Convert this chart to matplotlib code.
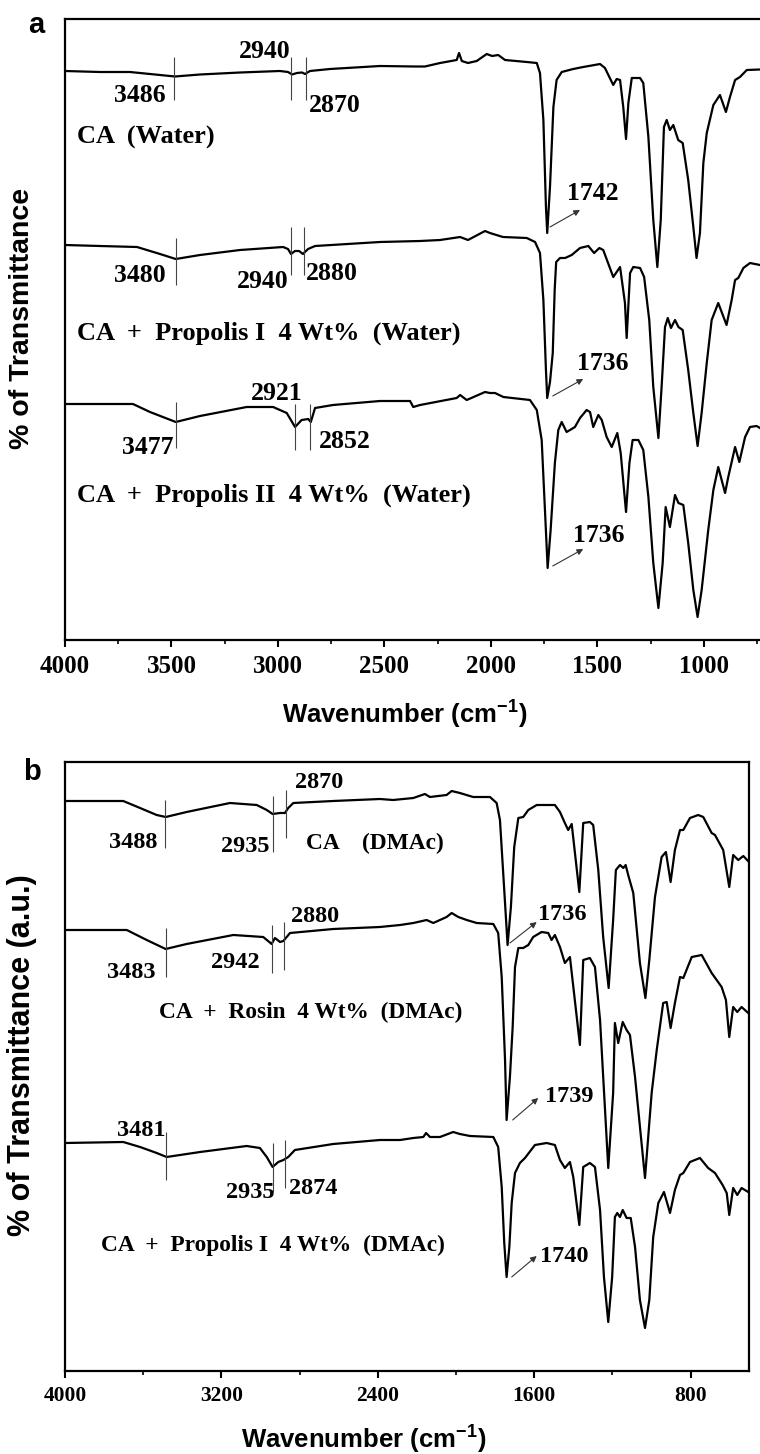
import matplotlib
matplotlib.use("Agg")
import matplotlib.pyplot as plt
from matplotlib.ticker import MultipleLocator

plt.rcParams["mathtext.fontset"] = "custom"
plt.rcParams["mathtext.rm"] = "Liberation Sans:bold"
plt.rcParams["mathtext.bf"] = "Liberation Sans:bold"
plt.rcParams["mathtext.default"] = "bf"

SERIF = "Liberation Serif"
SANS = "Liberation Sans"

# ---- panel a : films cast from water (transmittance, arbitrary offsets) ----
a_ca_wn = [4000, 3836, 3695, 3601, 3484, 3366, 3178, 2991, 2953, 2934, 2911, 2887, 2873, 2850, 2756,
           2521, 2357, 2310, 2239, 2161, 2150, 2137, 2108, 2067, 2020, 1995, 1966, 1934, 1832, 1785,
           1770, 1754, 1742, 1736, 1723, 1707, 1692, 1668, 1614, 1567, 1488, 1465, 1426, 1410, 1394,
           1379, 1366, 1355, 1339, 1300, 1285, 1261, 1238, 1219, 1203, 1188, 1175, 1160, 1144, 1121,
           1100, 1074, 1050, 1035, 1019, 1003, 987, 956, 925, 897, 878, 854, 831, 799, 737]
a_ca_t = [569, 568, 568, 566, 563.5, 565.5, 567.5, 569, 568, 565.5, 567, 567.5, 566, 569, 571,
          574, 573.5, 573.5, 577, 580, 587, 579, 577, 579, 586, 584, 585, 580, 578, 577,
          567, 520, 433, 407, 453, 533, 560, 568, 571, 573, 576, 572, 555, 561, 560,
          533, 501, 537, 562, 562, 557, 503, 420, 373, 420, 513, 520, 510, 515, 500,
          497, 460, 413, 382, 407, 477, 507, 535, 545, 528, 543, 560, 563, 570, 570.5]

a_p1_wn = [4000, 3836, 3662, 3554, 3480, 3366, 3178, 2976, 2953, 2939, 2920, 2901, 2883, 2859, 2826,
           2521, 2333, 2239, 2145, 2108, 2028, 2005, 1944, 1832, 1793, 1770, 1754, 1742, 1736, 1723,
           1710, 1701, 1694, 1676, 1652, 1621, 1582, 1543, 1516, 1491, 1473, 1426, 1394, 1371, 1363,
           1347, 1332, 1300, 1281, 1257, 1238, 1214, 1199, 1183, 1170, 1155, 1136, 1120, 1100, 1074,
           1050, 1030, 1011, 987, 964, 933, 894, 870, 854, 839, 815, 784, 737]
a_p1_t = [395, 394, 393, 386, 381, 385, 390, 393, 391, 386, 389, 389, 386, 391, 394,
          398, 399, 400, 403, 400, 409, 407, 403, 402, 398, 387, 340, 270, 242, 258,
          287, 350, 378, 382, 382, 385, 392, 394, 387, 392, 390, 363, 373, 337, 302,
          367, 373, 372, 363, 320, 253, 202, 253, 313, 322, 312, 320, 313, 310, 270,
          227, 194, 227, 277, 320, 337, 315, 340, 360, 362, 372, 377, 375]

a_p2_wn = [4000, 3681, 3601, 3480, 3366, 3147, 3023, 2959, 2920, 2889, 2858, 2846, 2826, 2742, 2521,
           2380, 2365, 2333, 2161, 2145, 2114, 2028, 2005, 1981, 1942, 1817, 1785, 1762, 1746, 1734,
           1720, 1700, 1684, 1668, 1645, 1621, 1606, 1582, 1551, 1535, 1520, 1496, 1480, 1457, 1433,
           1407, 1391, 1366, 1350, 1335, 1308, 1285, 1261, 1238, 1214, 1194, 1180, 1160, 1136, 1120,
           1097, 1074, 1050, 1030, 1011, 980, 956, 933, 901, 886, 854, 834, 807, 784, 753, 737]
a_p2_t = [236, 236, 228, 218, 224, 233, 233, 227, 213, 220, 221, 218, 232, 235, 239,
          239, 233, 235, 242, 245, 240, 248, 247, 247, 243, 240, 230, 200, 127, 72,
          110, 177, 210, 218, 208, 211, 213, 222, 230, 228, 213, 225, 220, 203, 193,
          207, 187, 128, 177, 200, 200, 190, 143, 77, 32, 77, 133, 113, 145, 137,
          135, 97, 50, 23, 50, 110, 150, 173, 147, 163, 193, 178, 203, 213, 214, 212]

# ---- panel b : films cast from DMAc ----
b_ca_wn = [4000, 3702, 3616, 3531, 3485, 3378, 3156, 3019, 2968, 2938, 2900, 2875, 2858, 2832, 2628,
           2389, 2321, 2218, 2159, 2133, 2048, 2022, 1980, 1912, 1826, 1792, 1775, 1754, 1736, 1719,
           1702, 1681, 1656, 1630, 1587, 1494, 1468, 1443, 1426, 1408, 1369, 1349, 1315, 1298, 1272,
           1247, 1219, 1196, 1182, 1161, 1144, 1132, 1119, 1093, 1059, 1031, 1011, 982, 948, 926,
           902, 880, 854, 837, 803, 761, 735, 692, 675, 633, 602, 582, 556, 530, 501]
b_ca_t = [570, 570, 563, 556, 554, 559, 568, 566, 561, 557, 558, 558, 563, 568, 570,
          572, 571, 573, 577, 574, 576, 580, 578, 574, 574, 568, 551, 484, 426, 464,
          524, 553, 554, 561, 566, 566, 559, 548, 541, 547, 479, 548, 549, 546, 501,
          434, 383, 451, 501, 506, 503, 506, 496, 478, 408, 373, 411, 474, 514, 519,
          489, 521, 541, 541, 553, 556, 554, 538, 536, 521, 484, 516, 511, 515, 509]

b_rosin_wn = [4000, 3684, 3582, 3485, 3378, 3139, 2986, 2955, 2943, 2926, 2900, 2883, 2849, 2628, 2389,
              2286, 2218, 2150, 2116, 2048, 2022, 1988, 1945, 1894, 1809, 1784, 1766, 1749, 1741, 1724,
              1710, 1698, 1681, 1656, 1630, 1605, 1562, 1528, 1511, 1494, 1468, 1443, 1417, 1366, 1349,
              1315, 1289, 1263, 1221, 1196, 1187, 1170, 1147, 1127, 1110, 1084, 1033, 999, 973, 940,
              922, 902, 880, 854, 837, 794, 743, 692, 641, 619, 602, 582, 561, 539, 505]
b_rosin_t = [441, 441, 431, 422, 427, 436, 434, 429, 427, 433, 429, 430, 438, 442, 444,
             446, 448, 451, 448, 454, 458, 454, 451, 448, 447, 438, 394, 311, 251, 294,
             344, 404, 423, 423, 426, 434, 439, 438, 431, 436, 424, 408, 414, 326, 411,
             413, 404, 351, 203, 278, 348, 328, 349, 341, 336, 294, 193, 278, 321, 368,
             369, 343, 368, 394, 393, 414, 416, 398, 384, 371, 334, 364, 359, 364, 358]

b_p1_wn = [4000, 3702, 3616, 3531, 3480, 3309, 3071, 3003, 2968, 2938, 2909, 2883, 2858, 2824, 2628,
           2389, 2286, 2218, 2167, 2153, 2133, 2082, 2014, 1980, 1928, 1809, 1784, 1766, 1753, 1741,
           1727, 1715, 1698, 1673, 1647, 1596, 1536, 1494, 1468, 1443, 1417, 1400, 1369, 1349, 1315,
           1289, 1263, 1243, 1221, 1201, 1187, 1175, 1161, 1147, 1127, 1106, 1084, 1059, 1033, 1011,
           991, 965, 936, 905, 880, 854, 837, 803, 752, 710, 675, 636, 615, 602, 582, 561, 539, 505]
b_p1_t = [228, 229, 224, 218, 214, 219, 225, 223, 214, 204, 209, 211, 214, 221, 227,
          231, 231, 233, 234, 238, 234, 234, 239, 237, 235, 234, 224, 184, 128, 94,
          124, 168, 198, 208, 213, 226, 228, 226, 211, 203, 209, 194, 146, 204, 208,
          204, 161, 94, 49, 94, 154, 158, 154, 161, 153, 153, 124, 71, 43, 71,
          134, 168, 179, 158, 181, 196, 198, 209, 213, 203, 198, 186, 178, 156, 183, 176, 183, 179]

# peak marker lines: (wavenumber, low, high)
a_marks = [(3486, 540, 583), (2940, 540, 583), (2870, 540, 583),
           (3480, 355, 402), (2940, 365, 413), (2880, 365, 413),
           (3477, 192, 238), (2921, 190, 236), (2852, 190, 236)]
b_marks = [(3488, 523, 571), (2935, 519, 575), (2870, 533, 581),
           (3483, 394, 443), (2942, 398, 446), (2880, 401, 449),
           (3481, 191, 239), (2935, 179, 228), (2874, 183, 231)]

# peak labels: (text, wavenumber, value)
a_nums = [("3486", 3648, 545), ("2940", 3061, 588), ("2870", 2732, 535),
          ("3480", 3648, 364), ("2940", 3070, 358), ("2880", 2746, 366),
          ("3477", 3610, 193), ("2921", 3006, 247), ("2852", 2685, 198)]
b_nums = [("3488", 3651, 528), ("2935", 3079, 525), ("2870", 2699, 589),
          ("3483", 3659, 398), ("2942", 3130, 409), ("2880", 2721, 454),
          ("3481", 3608, 241), ("2935", 3054, 178), ("2874", 2730, 183)]

a_names = [("CA  (Water)", 3944, 503),
           ("CA  +  Propolis I  4 Wt%  (Water)", 3944, 307),
           ("CA  +  Propolis II  4 Wt%  (Water)", 3944, 145)]
b_names = [("CA    (DMAc)", 2767, 528),
           ("CA  +  Rosin  4 Wt%  (DMAc)", 3518, 359),
           ("CA  +  Propolis I  4 Wt%  (DMAc)", 3816, 126)]

# carbonyl arrows: (text, text wn, text value, arrow start, arrow end)
a_arrows = [("1742", 1520, 447, (1723, 413), (1582, 430)),
            ("1736", 1473, 277, (1710, 244), (1567, 261)),
            ("1736", 1496, 104, (1710, 74), (1567, 91))]
b_arrows = [("1736", 1579, 456, (1724, 428), (1587, 449)),
            ("1739", 1545, 274, (1710, 251), (1579, 273)),
            ("1740", 1570, 115, (1715, 94), (1587, 115))]

W, H = 760, 1454
fig = plt.figure(figsize=(W / 100, H / 100), dpi=100)


def setup(ax, xlim, ylim, major, minor, tick_size):
    ax.set_xlim(*xlim)
    ax.set_ylim(*ylim)
    ax.xaxis.set_major_locator(MultipleLocator(major))
    ax.xaxis.set_minor_locator(MultipleLocator(minor))
    ax.set_yticks([])
    ax.tick_params(axis="x", which="major", direction="out", length=5, width=1.5, pad=6)
    ax.tick_params(axis="x", which="minor", direction="out", length=3, width=1.2)
    for lab in ax.get_xticklabels():
        lab.set_fontfamily(SERIF)
        lab.set_fontweight("bold")
        lab.set_fontsize(tick_size)
    for sp in ax.spines.values():
        sp.set_linewidth(1.6)


def decorate(ax, marks, nums, names, nsize, lsize):
    for wn, lo, hi in marks:
        ax.vlines(wn, lo, hi, color="#444444", lw=0.8)
    for txt, x, y in nums:
        ax.text(x, y, txt, ha="center", va="center", family=SERIF,
                fontweight="bold", fontsize=nsize)
    for txt, x, y in names:
        ax.text(x, y, txt, ha="left", va="center", family=SERIF,
                fontweight="bold", fontsize=lsize)


def arrows(ax, items, size, ha):
    for txt, x, y, start, end in items:
        ax.annotate("", xy=end, xytext=start,
                    arrowprops=dict(arrowstyle="-|>", color="#333333", lw=0.8,
                                    mutation_scale=9, shrinkA=0, shrinkB=0))
        ax.text(x, y, txt, ha=ha, va="center", family=SERIF,
                fontweight="bold", fontsize=size)


# panel a
ax1 = fig.add_axes([65 / W, 1 - 640 / H, (W - 65) / W, 621 / H])
for wn, t in [(a_ca_wn, a_ca_t), (a_p1_wn, a_p1_t), (a_p2_wn, a_p2_t)]:
    ax1.plot(wn, t, color="black", lw=1.6)
setup(ax1, (4000, 737), (0, 621), 500, 250, 18)
ax1.spines["right"].set_visible(False)
decorate(ax1, a_marks, a_nums, a_names, 18.5, 19)
arrows(ax1, a_arrows, 18.5, "center")

# panel b
ax2 = fig.add_axes([65 / W, 1 - 1371 / H, 684 / W, 609 / H])
for wn, t in [(b_ca_wn, b_ca_t), (b_rosin_wn, b_rosin_t), (b_p1_wn, b_p1_t)]:
    ax2.plot(wn, t, color="black", lw=1.6)
setup(ax2, (4000, 501), (0, 609), 800, 400, 15.5)
decorate(ax2, b_marks, b_nums, b_names, 17.5, 16.8)
arrows(ax2, b_arrows, 17.5, "left")

# axis titles and panel letters
fig.text(405 / W, 1 - 715 / H, "Wavenumber (cm$^{-1}$)", ha="center", va="center",
         family=SANS, fontweight="bold", fontsize=18.5)
fig.text(364 / W, 1 - 1440 / H, "Wavenumber (cm$^{-1}$)", ha="center", va="center",
         family=SANS, fontweight="bold", fontsize=18.5)
fig.text(22 / W, 1 - 318 / H, "% of Transmittance", rotation=90, ha="center", va="center",
         family=SANS, fontweight="bold", fontsize=20.5)
fig.text(22 / W, 1 - 1055 / H, "% of Transmittance (a.u.)", rotation=90, ha="center",
         va="center", family=SANS, fontweight="bold", fontsize=22)
fig.text(36 / W, 1 - 25 / H, "a", ha="center", va="center", family=SANS,
         fontweight="bold", fontsize=21)
fig.text(32 / W, 1 - 772 / H, "b", ha="center", va="center", family=SANS,
         fontweight="bold", fontsize=21)

fig.savefig("out.png", dpi=100)
